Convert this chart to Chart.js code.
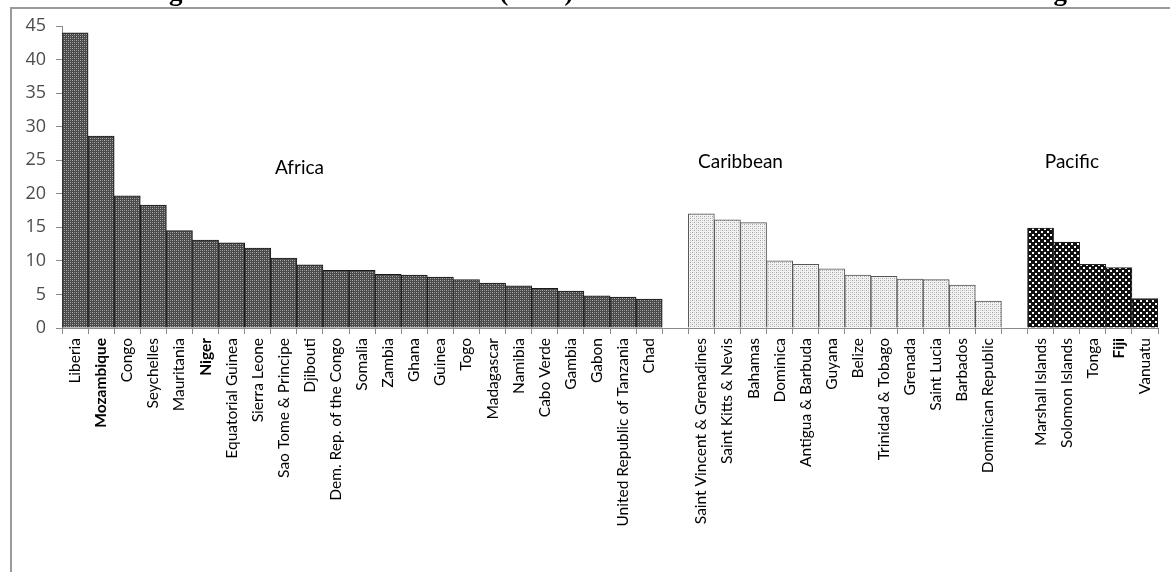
<!DOCTYPE html>
<html>
<head>
<meta charset="utf-8">
<script src="https://cdn.jsdelivr.net/npm/chart.js@4/dist/chart.umd.min.js"></script>
<style>
  html, body { margin: 0; padding: 0; background: #fff; }
  #wrap { position: relative; width: 1170px; height: 572px; }
</style>
</head>
<body>
<div id="wrap"><canvas id="c" width="1170" height="572"></canvas></div>
<script>
// Remittances as a share of GDP (%), by region
const africaCountries = ['Liberia', 'Mozambique', 'Congo', 'Seychelles', 'Mauritania', 'Niger',
  'Equatorial Guinea', 'Sierra Leone', 'Sao Tome & Principe', 'Djibouti', 'Dem. Rep. of the Congo',
  'Somalia', 'Zambia', 'Ghana', 'Guinea', 'Togo', 'Madagascar', 'Namibia', 'Cabo Verde', 'Gambia',
  'Gabon', 'United Republic of Tanzania', 'Chad'];
const africaValues = [44.0, 28.6, 19.7, 18.3, 14.5, 13.1, 12.7, 11.9, 10.4, 9.4, 8.6,
  8.6, 8.0, 7.9, 7.6, 7.2, 6.7, 6.3, 5.9, 5.5, 4.8, 4.6, 4.3];

const caribbeanCountries = ['Saint Vincent & Grenadines', 'Saint Kitts & Nevis', 'Bahamas', 'Dominica',
  'Antigua & Barbuda', 'Guyana', 'Belize', 'Trinidad & Tobago', 'Grenada', 'Saint Lucia', 'Barbados',
  'Dominican Republic'];
const caribbeanValues = [17.0, 16.1, 15.7, 10.0, 9.5, 8.8, 7.9, 7.7, 7.3, 7.2, 6.4, 4.0];

const pacificCountries = ['Marshall Islands', 'Solomon Islands', 'Tonga', 'Fiji', 'Vanuatu'];
const pacificValues = [14.9, 12.8, 9.5, 9.0, 4.4];

const regionNames = ['Africa', 'Caribbean', 'Pacific'];
const yTicks = [0, 5, 10, 15, 20, 25, 30, 35, 40, 45];

const titleText = 'Figure 4: Remittances to GDP (in %) for selected SIDS states: 2010-2014 average';

// Category axis: the three regions separated by one empty slot
const labels = [...africaCountries, '', ...caribbeanCountries, '', ...pacificCountries];
const nA = africaCountries.length, nC = caribbeanCountries.length, nP = pacificCountries.length;
const pad = n => new Array(n).fill(null);
const africaSeries = [...africaValues, ...pad(1 + nC + 1 + nP)];
const caribbeanSeries = [...pad(nA + 1), ...caribbeanValues, ...pad(1 + nP)];
const pacificSeries = [...pad(nA + 1 + nC + 1), ...pacificValues];

const boldLabels = new Set(['Mozambique', 'Niger', 'Fiji']);

// Fill patterns for the bars
function makePattern(size, bg, cells) {
  const cv = document.createElement('canvas');
  cv.width = size; cv.height = size;
  const g = cv.getContext('2d');
  g.fillStyle = bg; g.fillRect(0, 0, size, size);
  cells.forEach(([x, y, w, h, col]) => { g.fillStyle = col; g.fillRect(x, y, w, h); });
  return g.createPattern(cv, 'repeat');
}
const ctx = document.getElementById('c').getContext('2d');
const africaFill = makePattern(4, '#4a4a4a', [
  [0, 0, 1, 1, '#b0b0b0'], [2, 2, 1, 1, '#b0b0b0'], [2, 0, 1, 1, '#8a8a8a'], [0, 2, 1, 1, '#8a8a8a']
]);
const caribbeanFill = makePattern(4, '#f2f2f2', [
  [0, 0, 1, 1, '#a0a0a0'], [2, 2, 1, 1, '#a0a0a0'], [2, 0, 1, 1, '#cfcfcf'], [0, 2, 1, 1, '#cfcfcf']
]);
const pacificFill = makePattern(6, '#111111', [[0, 0, 2, 2, '#ffffff'], [3, 3, 2, 2, '#ffffff']]);

const regionLabelPos = [
  { region: 0, x: 8.6, y: 23.9 },
  { region: 1, x: 25.5, y: 24.8 },
  { region: 2, x: 38.2, y: 24.8 }
];

const decorPlugin = {
  id: 'decor',
  beforeDraw(chart) {
    const g = chart.ctx;
    g.save();
    // clipped heading above the frame
    g.fillStyle = '#000';
    g.font = 'bold 27px "Liberation Serif", serif';
    g.textAlign = 'center';
    g.textBaseline = 'alphabetic';
    g.fillText(titleText, 612, 0);
    // outer frame (left and top edges)
    g.fillStyle = '#fff';
    g.fillRect(0, 7, 1170, 4);
    g.strokeStyle = '#9a9a9a';
    g.lineWidth = 2;
    g.beginPath();
    g.moveTo(1170, 8); g.lineTo(11, 8); g.lineTo(11, 572);
    g.stroke();
    g.restore();
  },
  afterDatasetsDraw(chart) {
    const g = chart.ctx;
    const xs = chart.scales.x, ys = chart.scales.y;
    g.save();
    g.fillStyle = '#000';
    g.font = '19px Lato, sans-serif';
    g.textAlign = 'center';
    g.textBaseline = 'middle';
    regionLabelPos.forEach(p => {
      g.fillText(regionNames[p.region], xs.getPixelForValue(p.x), ys.getPixelForValue(p.y));
    });
    g.restore();
  }
};

const common = { barPercentage: 1.0, categoryPercentage: 1.0, borderWidth: 1, borderSkipped: 'bottom' };

new Chart(ctx, {
  type: 'bar',
  data: {
    labels,
    datasets: [
      { ...common, data: africaSeries, backgroundColor: africaFill, borderColor: '#1a1a1a' },
      { ...common, data: caribbeanSeries, backgroundColor: caribbeanFill, borderColor: '#555555' },
      { ...common, data: pacificSeries, backgroundColor: pacificFill, borderColor: '#222222' }
    ]
  },
  options: {
    responsive: false,
    animation: false,
    events: [],
    layout: { padding: { left: 11, top: 26, right: 12, bottom: 0 } },
    plugins: { legend: { display: false }, tooltip: { enabled: false } },
    datasets: { bar: { grouped: false } },
    scales: {
      x: {
        offset: true,
        grid: {
          offset: true, drawOnChartArea: false, drawTicks: true,
          tickLength: 6, color: '#8a8a8a', lineWidth: 1
        },
        border: { display: true, color: '#8a8a8a', width: 1 },
        ticks: {
          autoSkip: false, minRotation: 90, maxRotation: 90, padding: 4,
          color: '#000',
          font: c => ({
            family: 'Lato, sans-serif', size: 15.5,
            weight: boldLabels.has(labels[c.index]) ? 'bold' : 'normal'
          })
        },
        afterFit(s) { s.height = 244; }
      },
      y: {
        min: 0, max: 45,
        afterBuildTicks(s) { s.ticks = yTicks.map(v => ({ value: v })); },
        grid: { drawOnChartArea: false, drawTicks: true, tickLength: 6, color: '#8a8a8a' },
        border: { display: true, color: '#8a8a8a', width: 1 },
        ticks: {
          color: '#4d4d4d', padding: 10,
          font: { family: '"Open Sans", sans-serif', size: 18 }
        },
        afterFit(s) { s.width = 51; }
      }
    }
  },
  plugins: [decorPlugin]
});
</script>
</body>
</html>
